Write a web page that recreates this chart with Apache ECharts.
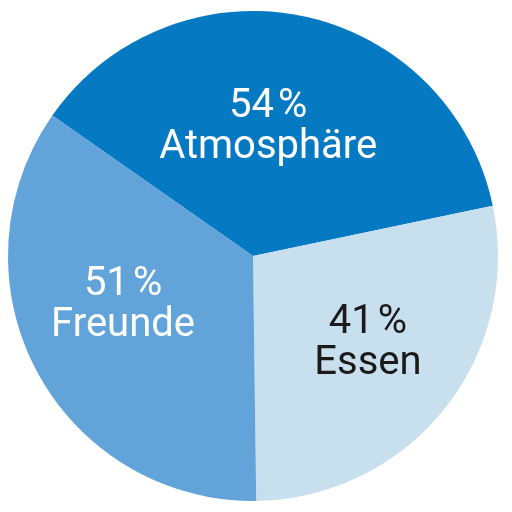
<!DOCTYPE html>
<html>
<head>
<meta charset="utf-8">
<script src="https://cdn.jsdelivr.net/npm/echarts@6/dist/echarts.min.js"></script>
<style>
  html, body { margin: 0; padding: 0; background: #fff; }
  #chart { width: 512px; height: 512px; }
</style>
</head>
<body>
<div id="chart"></div>
<script>
var categories = ['Atmosphäre', 'Essen', 'Freunde'];
var values = [54, 41, 51];

var colors = ['#0679c3', '#c8dfed', '#62a3d9'];
var textColors = ['#ffffff', '#1a1a1a', '#ffffff'];
// nudge each label from the slice middle to where it sits in the picture
var labelOffsets = [[-10, -6], [17, 9], [-19, -9]];

var myChart = echarts.init(document.getElementById('chart'));

var pieData = categories.map(function (name, i) {
    return {
        name: name,
        value: values[i],
        itemStyle: { color: colors[i] },
        label: {
            color: textColors[i],
            offset: labelOffsets[i]
        }
    };
});

var option = {
    animation: false,
    series: [{
        type: 'pie',
        center: [253, 256],
        radius: 245,
        startAngle: 145,
        clockwise: true,
        emphasis: { disabled: true },
        label: {
            show: true,
            position: 'inside',
            fontFamily: 'Roboto',
            fontSize: 40,
            lineHeight: 41,
            align: 'center',
            formatter: function (p) {
                return p.value + '\u200A%\n' + p.name;
            }
        },
        labelLine: { show: false },
        data: pieData
    }]
};

myChart.setOption(option);
</script>
</body>
</html>
